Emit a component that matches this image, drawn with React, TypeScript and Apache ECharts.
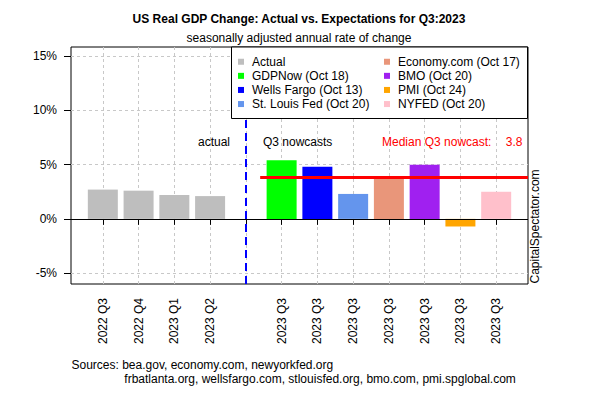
import React, { useEffect, useRef } from "react";
import * as echarts from "echarts";

const tickLabels = [
  "2022 Q3", "2022 Q4", "2023 Q1", "2023 Q2", "",
  "2023 Q3", "2023 Q3", "2023 Q3", "2023 Q3", "2023 Q3", "2023 Q3", "2023 Q3",
];
const tickPositions = [1, 2, 3, 4, 5, 6, 7, 8, 9, 10, 11, 12];
const labelPositions = [1, 2, 3, 4, 6, 7, 8, 9, 10, 11, 12];

const actualName = "Actual";
const actualPositions = [1, 2, 3, 4];
const actualValues = [2.7, 2.6, 2.2, 2.1];
const actualColor = "#BEBEBE";

const nowcastNames = [
  "GDPNow (Oct 18)",
  "Wells Fargo (Oct 13)",
  "St. Louis Fed (Oct 20)",
  "Economy.com (Oct 17)",
  "BMO (Oct 20)",
  "PMI (Oct 24)",
  "NYFED (Oct 20)",
];
const nowcastPositions = [6, 7, 8, 9, 10, 11, 12];
const nowcastValues = [5.4, 4.8, 2.3, 3.7, 5.0, -0.7, 2.5];
const nowcastColors = ["#00FF00", "#0000FF", "#6495ED", "#E9967A", "#A020F0", "#FFA500", "#FFC0CB"];

const medianNowcast = 3.8;
const medianStart = 5.4;
const dividerPosition = 5;
const yTicks = [-5, 0, 5, 10, 15];
const xMin = 0.11;
const xMax = 12.89;
const yMin = -6;
const yMax = 15.84;

const FONT = "Liberation Sans, Arial, Helvetica, sans-serif";

export default function App() {
  const ref = useRef<HTMLDivElement>(null);
  useEffect(() => {
    if (!ref.current) return;
    const chart = echarts.init(ref.current, null, { renderer: "svg" });
    const gridLine = { color: "#C8C8C8", type: [3, 3] as number[], width: 1 };

    const series: any[] = [];
    series.push({
      name: actualName,
      type: "bar",
      barWidth: 30,
      barGap: "-100%",
      itemStyle: { color: actualColor },
      data: actualPositions.map((p, i) => [p, actualValues[i]]),
      z: 2,
    });
    nowcastNames.forEach((n, i) => {
      series.push({
        name: n,
        type: "bar",
        barWidth: 30,
        barGap: "-100%",
        itemStyle: { color: nowcastColors[i] },
        data: [[nowcastPositions[i], nowcastValues[i]]],
        z: 2,
      });
    });
    series.push({
      name: "lines",
      type: "line",
      data: [],
      silent: true,
      z: 5,
      markLine: {
        silent: true,
        z: 5,
        symbol: ["none", "none"],
        label: { show: false },
        animation: false,
        data: [
          { yAxis: 0, lineStyle: { color: "#000", width: 1, type: "solid" } },
          { xAxis: dividerPosition, lineStyle: { color: "#0000FF", width: 2, type: [8, 5] } },
          [
            { coord: [medianStart, medianNowcast], lineStyle: { color: "#FF0000", width: 3, type: "solid" } },
            { coord: [xMax, medianNowcast] },
          ],
        ],
      },
    });

    const legendCommon = {
      orient: "vertical",
      itemWidth: 6,
      itemHeight: 6,
      itemGap: 0,
      padding: 0,
      icon: "rect",
      selectedMode: false,
      z: 60,
      textStyle: { fontFamily: FONT, fontSize: 12, color: "#000", lineHeight: 14.1, padding: [0, 0, 0, 3] },
    };

    chart.setOption({
      animation: false,
      textStyle: { fontFamily: FONT },
      grid: {
        left: 71, right: 72, top: 47, bottom: 116,
        show: true, borderColor: "#000", borderWidth: 1, backgroundColor: "transparent",
      },
      xAxis: {
        type: "value",
        min: xMin,
        max: xMax,
        axisLine: { show: false },
        axisTick: { show: true, customValues: tickPositions, length: 6, lineStyle: { color: "#000" } },
        axisLabel: {
          customValues: labelPositions,
          formatter: (v: number) => tickLabels[Math.round(v) - 1],
          rotate: 90,
          margin: 14,
          fontSize: 12,
          color: "#000",
          fontFamily: FONT,
        },
        splitLine: { show: true, lineStyle: gridLine },
      },
      yAxis: {
        type: "value",
        min: yMin,
        max: yMax,
        axisLine: { show: false },
        axisTick: { show: true, customValues: yTicks, length: 7, lineStyle: { color: "#000" } },
        axisLabel: {
          customValues: yTicks,
          formatter: (v: number) => `${v}%`,
          margin: 14,
          fontSize: 12,
          color: "#000",
          fontFamily: FONT,
        },
        splitLine: { show: true, lineStyle: gridLine },
      },
      legend: [
        { ...legendCommon, left: 238, top: 54.7, data: [actualName, nowcastNames[0], nowcastNames[1], nowcastNames[2]] },
        { ...legendCommon, left: 384, top: 54.7, data: [nowcastNames[3], nowcastNames[4], nowcastNames[5], nowcastNames[6]] },
      ],
      graphic: {
        z: 50,
        elements: [
          {
            type: "rect",
            z: 50,
            shape: { x: 231.5, y: 47, width: 296, height: 71.5 },
            style: { fill: "#fff", stroke: "#000", lineWidth: 1 },
          },
          {
            type: "text", x: 299, y: 19, z: 50,
            style: { text: "US Real GDP Change: Actual vs. Expectations for Q3:2023", font: `bold 12px ${FONT}`, fill: "#000", textAlign: "center", textVerticalAlign: "middle", align: "center", verticalAlign: "middle" },
          },
          {
            type: "text", x: 299, y: 38.3, z: 50,
            style: { text: "seasonally adjusted annual rate of change", font: `12px ${FONT}`, fill: "#000", textAlign: "center", textVerticalAlign: "middle", align: "center", verticalAlign: "middle" },
          },
          {
            type: "text", x: 230, y: 141.7, z: 50,
            style: { text: "actual", font: `12px ${FONT}`, fill: "#000", textAlign: "right", textVerticalAlign: "middle", align: "right", verticalAlign: "middle" },
          },
          {
            type: "text", x: 263, y: 141.7, z: 50,
            style: { text: "Q3 nowcasts", font: `12px ${FONT}`, fill: "#000", textAlign: "left", textVerticalAlign: "middle", align: "left", verticalAlign: "middle" },
          },
          {
            type: "text", x: 382, y: 141.7, z: 50,
            style: { text: "Median Q3 nowcast:", font: `12px ${FONT}`, fill: "#FF0000", textAlign: "left", textVerticalAlign: "middle", align: "left", verticalAlign: "middle" },
          },
          {
            type: "text", x: 522.5, y: 141.7, z: 50,
            style: { text: medianNowcast.toFixed(1), font: `12px ${FONT}`, fill: "#FF0000", textAlign: "right", textVerticalAlign: "middle", align: "right", verticalAlign: "middle" },
          },
          {
            type: "text", x: 535, y: 283.5, rotation: Math.PI / 2, z: 50,
            style: { text: "CapitalSpectator.com", font: `12px ${FONT}`, fill: "#000", textAlign: "left", textVerticalAlign: "middle", align: "left", verticalAlign: "middle" },
          },
          {
            type: "text", x: 71.5, y: 365, z: 50,
            style: { text: "Sources: bea.gov, economy.com, newyorkfed.org", font: `12px ${FONT}`, fill: "#000", textAlign: "left", textVerticalAlign: "middle", align: "left", verticalAlign: "middle" },
          },
          {
            type: "text", x: 124.3, y: 379, z: 50,
            style: { text: "frbatlanta.org, wellsfargo.com, stlouisfed.org, bmo.com, pmi.spglobal.com", font: `12px ${FONT}`, fill: "#000", textAlign: "left", textVerticalAlign: "middle", align: "left", verticalAlign: "middle" },
          },
        ],
      },
      series,
    });
    return () => chart.dispose();
  }, []);
  return <div ref={ref} style={{ width: 600, height: 400, position: "absolute", left: 0, top: 0 }} />;
}
